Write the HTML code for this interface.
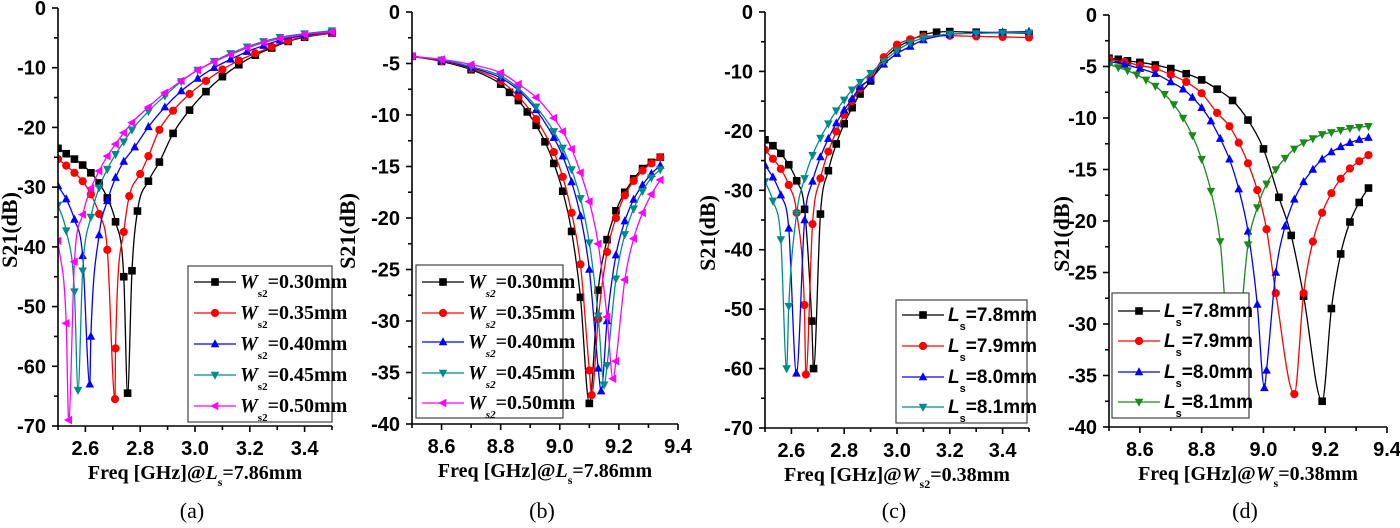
<!DOCTYPE html>
<html><head><meta charset="utf-8"><style>
body{margin:0;background:#fff;width:1400px;height:528px;overflow:hidden}
svg{display:block}
.tk{font-family:"Liberation Sans",Arial,sans-serif;font-weight:bold;font-size:20px;fill:#000}
.ttl{font-family:"Liberation Serif",serif;font-weight:bold;font-size:20px;fill:#000}
.yttl{font-family:"Liberation Serif",serif;font-weight:bold;font-size:22px;fill:#000}
.cap{font-family:"Liberation Serif",serif;font-size:22px;fill:#000}
.lg{font-family:"Liberation Serif",serif;font-weight:bold;font-size:20px;fill:#000}
.lgs{font-family:"Liberation Sans",sans-serif;font-weight:bold;font-size:19px;fill:#000}
</style></head><body>
<svg id="fig" width="1400" height="528" viewBox="0 0 1400 528" xmlns="http://www.w3.org/2000/svg"></svg>
<script>
// ---- Panel (a) data: freq GHz, S21 dB ----
const aW030=[[2.5,-23.5],[2.53,-24.4],[2.56,-25.3],[2.59,-26.3],[2.62,-27.6],[2.65,-29.3],[2.68,-31.8],[2.71,-35.8],[2.74,-45],[2.754,-64.5],[2.77,-44],[2.79,-34],[2.83,-29],[2.87,-25.8],[2.92,-21],[2.98,-17.1],[3.04,-14],[3.1,-11.5],[3.16,-9.5],[3.22,-7.9],[3.28,-6.7],[3.34,-5.6],[3.4,-4.9],[3.5,-4.2]];
const aW035=[[2.5,-25.3],[2.53,-26.4],[2.56,-27.6],[2.59,-29],[2.62,-31.2],[2.65,-34.5],[2.68,-40.5],[2.708,-65.5],[2.71,-57],[2.74,-37.5],[2.76,-31.5],[2.8,-27.8],[2.83,-24.8],[2.87,-20.4],[2.92,-17.2],[2.98,-14.4],[3.04,-12.2],[3.1,-10.3],[3.16,-8.8],[3.22,-7.6],[3.28,-6.5],[3.34,-5.5],[3.4,-4.8],[3.5,-4.2]];
const aW040=[[2.5,-29.8],[2.53,-32],[2.56,-35.4],[2.59,-41.5],[2.616,-63],[2.62,-55],[2.65,-38],[2.68,-32.3],[2.71,-28.4],[2.74,-25.7],[2.78,-23.3],[2.83,-19.9],[2.89,-16.6],[2.95,-13.9],[3.01,-11.8],[3.07,-10],[3.13,-8.6],[3.19,-7.3],[3.25,-6.3],[3.31,-5.4],[3.4,-4.6],[3.5,-4]];
const aW045=[[2.5,-33],[2.53,-37.3],[2.56,-47.5],[2.573,-64],[2.59,-44],[2.62,-35],[2.65,-30.1],[2.68,-27],[2.71,-24.5],[2.74,-22.4],[2.77,-20.4],[2.83,-17.3],[2.89,-14.7],[2.95,-12.3],[3.01,-10.4],[3.07,-8.9],[3.13,-7.6],[3.19,-6.5],[3.25,-5.6],[3.31,-4.9],[3.4,-4.3],[3.5,-3.8]];
const aW050=[[2.5,-39],[2.53,-52.8],[2.539,-69],[2.56,-42.5],[2.59,-34.6],[2.62,-30.2],[2.65,-27.3],[2.68,-24.8],[2.71,-22.8],[2.74,-20.9],[2.77,-19.2],[2.83,-16.6],[2.89,-14.2],[2.95,-12.2],[3.01,-10.4],[3.07,-9],[3.13,-7.8],[3.19,-6.7],[3.25,-5.8],[3.31,-5.1],[3.4,-4.4],[3.5,-4]];
// ---- Panel (b) data ----
const bW030=[[8.5,-4.3],[8.6,-4.8],[8.7,-5.6],[8.8,-7],[8.83,-7.8],[8.86,-8.6],[8.89,-9.7],[8.92,-11],[8.95,-12.6],[8.98,-14.7],[9.01,-17.4],[9.04,-21.3],[9.07,-27.7],[9.1,-38],[9.13,-27],[9.16,-22.1],[9.19,-19.3],[9.22,-17.5],[9.25,-16.2],[9.28,-15.2],[9.31,-14.6],[9.34,-14.1]];
const bW035=[[8.5,-4.3],[8.6,-4.75],[8.7,-5.5],[8.8,-6.7],[8.86,-8.2],[8.92,-10.4],[8.98,-13.6],[9.01,-16],[9.04,-19.5],[9.07,-24.5],[9.1,-34.8],[9.108,-37.2],[9.13,-29.8],[9.16,-23.3],[9.19,-20],[9.22,-17.8],[9.25,-16.4],[9.28,-15.4],[9.31,-14.7],[9.34,-14.1]];
const bW040=[[8.5,-4.3],[8.6,-4.7],[8.7,-5.4],[8.8,-6.4],[8.86,-7.6],[8.92,-9.5],[8.98,-12.2],[9.01,-14],[9.04,-16.5],[9.07,-19.8],[9.1,-25],[9.13,-34.6],[9.14,-36.8],[9.16,-30],[9.19,-23.6],[9.22,-20.3],[9.25,-18.2],[9.28,-16.8],[9.31,-15.7],[9.34,-14.9]];
const bW045=[[8.5,-4.3],[8.6,-4.65],[8.7,-5.3],[8.8,-6.2],[8.86,-7.4],[8.92,-9.2],[8.98,-11.6],[9.01,-13.2],[9.04,-15.3],[9.07,-18.1],[9.1,-22.4],[9.13,-29.5],[9.15,-36.2],[9.16,-34.3],[9.19,-25.9],[9.22,-21.6],[9.25,-19.1],[9.28,-17.4],[9.31,-16.1],[9.34,-15.3]];
const bW050=[[8.5,-4.3],[8.6,-4.6],[8.7,-5.1],[8.8,-5.9],[8.86,-7],[8.92,-8.3],[8.98,-10.3],[9.01,-11.6],[9.04,-13.3],[9.07,-15.6],[9.1,-18.4],[9.13,-22.5],[9.16,-29.6],[9.18,-35.6],[9.19,-33.9],[9.22,-26],[9.25,-22],[9.28,-19.5],[9.31,-17.7],[9.34,-16.3]];
// ---- Panel (c) data ----
const cL78=[[2.5,-21.5],[2.53,-22.5],[2.56,-23.8],[2.59,-25.7],[2.62,-28.4],[2.65,-33.2],[2.677,-52],[2.684,-60],[2.71,-34],[2.74,-26.7],[2.77,-22.2],[2.8,-18.8],[2.83,-16.1],[2.86,-13.8],[2.9,-11.6],[2.95,-8],[3.0,-6],[3.05,-4.8],[3.1,-3.8],[3.15,-3.4],[3.2,-3.3],[3.3,-3.4],[3.4,-3.5],[3.5,-3.6]];
const cL79=[[2.5,-23.2],[2.53,-24.7],[2.56,-26.4],[2.59,-29.1],[2.62,-33.8],[2.649,-49.3],[2.655,-61],[2.68,-35.7],[2.71,-28],[2.74,-23.5],[2.77,-20.1],[2.8,-17.3],[2.83,-15],[2.86,-12.9],[2.9,-11],[2.95,-7.6],[3.0,-5.5],[3.05,-4.6],[3.1,-4.1],[3.2,-4],[3.3,-4.1],[3.4,-4.2],[3.5,-4.3]];
const cL80=[[2.5,-25.8],[2.53,-27.8],[2.56,-30.8],[2.59,-36.4],[2.619,-60.8],[2.65,-35],[2.68,-28.5],[2.71,-24.4],[2.74,-21.3],[2.77,-18.7],[2.8,-16.5],[2.83,-14.6],[2.86,-12.6],[2.9,-11.3],[2.95,-8.8],[3.0,-7],[3.05,-5.8],[3.1,-4.7],[3.2,-3.8],[3.3,-3.5],[3.4,-3.4],[3.5,-3.3]];
const cL81=[[2.5,-28.5],[2.53,-31.8],[2.56,-38.3],[2.582,-60],[2.59,-49.5],[2.62,-33.9],[2.65,-28],[2.68,-24.1],[2.71,-21.2],[2.74,-18.8],[2.77,-16.6],[2.8,-14.8],[2.83,-13.1],[2.86,-11.8],[2.9,-10.3],[2.95,-8.3],[3.0,-6.5],[3.05,-5.2],[3.1,-4.4],[3.2,-3.7],[3.3,-3.6],[3.4,-3.5],[3.5,-3.5]];
// ---- Panel (d) data ----
const dL78=[[8.5,-4.2],[8.53,-4.3],[8.56,-4.45],[8.6,-4.6],[8.65,-4.85],[8.7,-5.2],[8.75,-5.7],[8.8,-6.3],[8.85,-7.2],[8.9,-8.3],[8.95,-10.2],[9.0,-13],[9.05,-17.7],[9.09,-21.4],[9.13,-27.3],[9.19,-37.5],[9.22,-28.5],[9.25,-23.2],[9.28,-20.1],[9.31,-18.2],[9.34,-16.8]];
const dL79=[[8.5,-4.3],[8.55,-4.55],[8.6,-4.9],[8.65,-5.2],[8.7,-5.8],[8.75,-6.5],[8.8,-7.6],[8.85,-9.5],[8.89,-10.8],[8.92,-12.4],[8.95,-14.4],[8.98,-17],[9.01,-20.8],[9.04,-27],[9.1,-36.8],[9.13,-27],[9.16,-22],[9.19,-19.2],[9.22,-17.3],[9.25,-15.9],[9.28,-14.9],[9.31,-14.2],[9.34,-13.6]];
const dL80=[[8.5,-4.5],[8.55,-4.8],[8.6,-5.2],[8.65,-5.7],[8.7,-6.5],[8.74,-7.2],[8.77,-8],[8.8,-9],[8.83,-10.3],[8.86,-12],[8.89,-14],[8.92,-16.9],[8.95,-21],[8.98,-28.1],[9.003,-36.2],[9.01,-34.5],[9.04,-25],[9.07,-20.5],[9.1,-17.9],[9.13,-16.2],[9.16,-15],[9.19,-14],[9.22,-13.3],[9.25,-12.8],[9.28,-12.4],[9.31,-12.1],[9.34,-11.9]];
const dL81=[[8.5,-4.8],[8.53,-5.1],[8.56,-5.4],[8.59,-5.8],[8.62,-6.3],[8.65,-6.9],[8.68,-7.7],[8.71,-8.7],[8.74,-10],[8.77,-11.7],[8.8,-14],[8.83,-17.1],[8.86,-22],[8.9,-36],[8.95,-22.3],[8.98,-18.7],[9.01,-16.4],[9.04,-15],[9.07,-13.9],[9.1,-13],[9.13,-12.4],[9.16,-12],[9.19,-11.6],[9.22,-11.4],[9.25,-11.2],[9.28,-11],[9.31,-10.9],[9.34,-10.8]];

const yTicks70=[0,-10,-20,-30,-40,-50,-60,-70];
const yTicks40=[0,-5,-10,-15,-20,-25,-30,-35,-40];
const xTicksLow=[2.6,2.8,3.0,3.2,3.4];
const xTicksHigh=[8.6,8.8,9.0,9.2,9.4];
const labW=["0.30","0.35","0.40","0.45","0.50"];
const labL=["7.8","7.9","8.0","8.1"];

const NS="http://www.w3.org/2000/svg";
const svg=document.getElementById('fig');
function mk(tag,attrs,parent){const e=document.createElementNS(NS,tag);for(const k in attrs)e.setAttribute(k,attrs[k]);(parent||svg).appendChild(e);return e;}

const C={k:"#000",r:"#ff0000",b:"#0000ff",t:"#008b8b",m:"#ff00ff",g:"#1a8a1a"};

const panels=[
 {id:"a",x0:58,x1:332,y0:8,y1:426,xmin:2.5,xmax:3.5,ymin:-70,ymax:0,yt:yTicks70,ymstep:5,xt:xTicksLow,xmstep:0.1,
  series:[[aW030,C.k,"sq"],[aW035,C.r,"ci"],[aW040,C.b,"tu"],[aW045,C.t,"td"],[aW050,C.m,"tl"]],labels:labW,kind:"W",
  leg:[188,266,332,422],legy:[282,313,344,375,406],ytb:17},
 {id:"b",x0:412,x1:678,y0:12,y1:424,xmin:8.5,xmax:9.4,ymin:-40,ymax:0,yt:yTicks40,ymstep:2.5,xt:xTicksHigh,xmstep:0.1,
  series:[[bW030,C.k,"sq"],[bW035,C.r,"ci"],[bW040,C.b,"tu"],[bW045,C.t,"td"],[bW050,C.m,"tl"]],labels:labW,kind:"W",
  leg:[416,265,563,418],legy:[282,313,342,373,403],ytb:355},
 {id:"c",x0:765,x1:1029,y0:12,y1:428,xmin:2.5,xmax:3.5,ymin:-70,ymax:0,yt:yTicks70,ymstep:5,xt:xTicksLow,xmstep:0.1,
  series:[[cL78,C.k,"sq"],[cL79,C.r,"ci"],[cL80,C.b,"tu"],[cL81,C.t,"td"]],labels:labL,kind:"L",
  leg:[896,300,1027,423],legy:[315,346,377,407],ytb:715},
 {id:"d",x0:1109,x1:1387,y0:15,y1:427,xmin:8.5,xmax:9.4,ymin:-40,ymax:0,yt:yTicks40,ymstep:2.5,xt:xTicksHigh,xmstep:0.1,
  series:[[dL78,C.k,"sq"],[dL79,C.r,"ci"],[dL80,C.b,"tu"],[dL81,C.g,"td"]],labels:labL,kind:"L",
  leg:[1112,293,1249,418],legy:[311,341,372,402],ytb:1069}
];

function monoPath(pts){
 const n=pts.length;const d=[],m=[];
 for(let i=0;i<n-1;i++){d.push((pts[i+1][1]-pts[i][1])/(pts[i+1][0]-pts[i][0]));}
 m[0]=d[0];m[n-1]=d[n-2];
 for(let i=1;i<n-1;i++){m[i]=(d[i-1]*d[i]<=0)?0:(d[i-1]+d[i])/2;}
 for(let i=0;i<n-1;i++){if(d[i]===0){m[i]=0;m[i+1]=0;continue;}const a=m[i]/d[i],b=m[i+1]/d[i],s=a*a+b*b;if(s>9){const t=3/Math.sqrt(s);m[i]=t*a*d[i];m[i+1]=t*b*d[i];}}
 let p="M"+pts[0][0].toFixed(2)+","+pts[0][1].toFixed(2);
 for(let i=0;i<n-1;i++){const h=pts[i+1][0]-pts[i][0];
  p+="C"+(pts[i][0]+h/3).toFixed(2)+","+(pts[i][1]+m[i]*h/3).toFixed(2)+" "+(pts[i+1][0]-h/3).toFixed(2)+","+(pts[i+1][1]-m[i+1]*h/3).toFixed(2)+" "+pts[i+1][0].toFixed(2)+","+pts[i+1][1].toFixed(2);}
 return p;
}
function marker(g,type,x,y,col){
 const s=3.8;let e;
 if(type==="sq")e=mk('rect',{x:x-s,y:y-s,width:2*s,height:2*s,fill:col},g);
 else if(type==="ci")e=mk('circle',{cx:x,cy:y,r:s+0.3,fill:col},g);
 else if(type==="tu")e=mk('polygon',{points:`${x},${y-s-1} ${x-s-0.5},${y+s-0.5} ${x+s+0.5},${y+s-0.5}`,fill:col},g);
 else if(type==="td")e=mk('polygon',{points:`${x},${y+s+1} ${x-s-0.5},${y-s+0.5} ${x+s+0.5},${y-s+0.5}`,fill:col},g);
 else e=mk('polygon',{points:`${x-s-1},${y} ${x+s-0.5},${y-s-0.5} ${x+s-0.5},${y+s+0.5}`,fill:col},g);
 
 
}

panels.forEach(P=>{
 const sx=v=>P.x0+(v-P.xmin)/(P.xmax-P.xmin)*(P.x1-P.x0);
 const sy=v=>P.y0+(P.ymax-v)/(P.ymax-P.ymin)*(P.y1-P.y0);
 const g=mk('g',{});
 
 
 const cp=mk('clipPath',{id:'clip'+P.id},g);mk('rect',{x:P.x0,y:P.y0-2,width:P.x1-P.x0+6,height:P.y1-P.y0+2},cp);
 P.series.forEach((S,si)=>{
  const sg=mk('g',{'clip-path':`url(#clip${P.id})`},g);
  
  
  const pts=S[0].map(q=>[sx(q[0]),sy(q[1])]);
  mk('path',{d:monoPath(pts),fill:"none",stroke:S[1],'stroke-width':1.3},sg);
  S[0].forEach(q=>marker(sg,S[2],sx(q[0]),sy(q[1]),S[1]));
 });
 const ax=mk('g',{stroke:"#000",'stroke-width':1.6},g);
 
 
 mk('line',{x1:P.x0,y1:P.y0,x2:P.x0,y2:P.y1},ax);
 mk('line',{x1:P.x0,y1:P.y1,x2:P.x1,y2:P.y1},ax);
 for(let v=P.ymax;v>=P.ymin-1e-9;v-=P.ymstep){const major=P.yt.some(t=>Math.abs(t-v)<1e-6);mk('line',{x1:P.x0,x2:P.x0-(major?6:4),y1:sy(v),y2:sy(v)},ax);}
 for(let v=P.xmin;v<=P.xmax+1e-9;v+=P.xmstep){const major=P.xt.some(t=>Math.abs(t-v)<1e-6);mk('line',{x1:sx(v),x2:sx(v),y1:P.y1,y2:P.y1+(major?6:4)},ax);}
 P.yt.forEach(v=>{const t=mk('text',{x:P.x0-12,y:sy(v)+7,'text-anchor':'end',class:'tk'},g);t.textContent=String(v);
  });
 P.xt.forEach(v=>{const t=mk('text',{x:sx(v),y:P.y1+29,'text-anchor':'middle',class:'tk'},g);t.textContent=v.toFixed(1);
  });
 const yc=(P.y0+P.y1)/2+13;
 const yt=mk('text',{x:P.ytb,y:yc,transform:`rotate(-90 ${P.ytb} ${yc})`,'text-anchor':'middle',class:'yttl'},g);
 yt.textContent="S21(dB)";
 
 const L=P.leg;
 const lg=mk('g',{},g);
 
 
 mk('rect',{x:L[0],y:L[1],width:L[2]-L[0],height:L[3]-L[1],fill:"#fff",stroke:"#444",'stroke-width':1.2},lg);
 P.series.forEach((S,si)=>{
  const y=P.legy[si];
  const eg=mk('g',{},lg);
  
  
  mk('line',{x1:L[0]+6,x2:L[0]+48,y1:y,y2:y,stroke:S[1],'stroke-width':1.3},eg);
  marker(eg,S[2],L[0]+27,y,S[1]);
  let t;
  if(P.kind==="W"){
   t=mk('text',{x:L[0]+52,y:y+6,class:'lg'},eg);
   t.innerHTML=`<tspan font-style="italic">W</tspan><tspan dy="9" font-size="11" ${P.id==="b"?'font-style="italic"':''}>s2</tspan><tspan dy="-9">=${P.labels[si]}mm</tspan>`;
  }else{
   t=mk('text',{x:L[0]+52,y:y+6,class:'lgs'},eg);
   t.innerHTML=`<tspan font-style="italic">L</tspan><tspan dy="9" font-size="11">s</tspan><tspan dy="-9">=${P.labels[si]}mm</tspan>`;
  }
 });
 const xc=(P.x0+P.x1)/2;
 const xt=mk('text',{x:xc,y:P.y1+53,'text-anchor':'middle',class:'ttl'},g);
 const sub={a:["L","s","=7.86mm"],b:["L","s","=7.86mm"],c:["W","s2","=0.38mm"],d:["W","s","=0.38mm"]}[P.id];
 xt.innerHTML=`Freq [GHz]@<tspan font-style="italic">${sub[0]}</tspan><tspan dy="7" font-size="12">${sub[1]}</tspan><tspan dy="-7">${sub[2]}</tspan>`;
 
 const cap=mk('text',{x:xc-3,y:518,'text-anchor':'middle',class:'cap'},g);
 cap.textContent="("+P.id+")";
 
});
</script>
</body></html>
